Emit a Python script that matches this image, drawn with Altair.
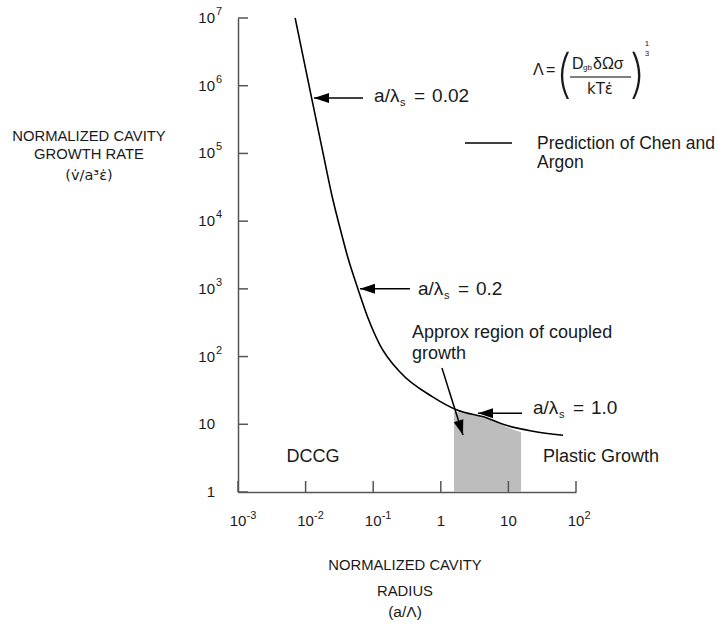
import altair as alt
import pandas as pd

FONT = "Liberation Sans"
INK = "#1a1a1a"
AXIS = "#555555"

# Prediction of Chen and Argon: normalized growth rate vs normalized radius
radius = [0.0070, 0.0122, 0.0178, 0.0254, 0.0323, 0.0424, 0.0596, 0.0838,
          0.126, 0.249, 0.767, 1.74, 4.82, 8.32, 23.1, 64.3]
rate = [1.0e7, 6.8e5, 1.1e5, 2.05e4, 7.9e3, 2.85e3, 990, 371,
        148, 59, 25.2, 16.2, 12.4, 10.0, 7.9, 6.9]

# approximate region of coupled growth (shaded under the curve)
band_radius = [1.57, 4.82, 8.32, 15.4]
band_rate = [15.5, 12.2, 9.6, 7.6]

# decade tick marks and their labels
x_ticks = [0.001, 0.01, 0.1, 1, 10, 100]
x_tick_base = ["10", "10", "10", "1", "10", "10"]
x_tick_exp = ["-3", "-2", "-1", "", "", "2"]
y_ticks = [1, 10, 1e2, 1e3, 1e4, 1e5, 1e6, 1e7]
y_tick_base = ["1", "10", "10", "10", "10", "10", "10", "10"]
y_tick_exp = ["", "", "2", "3", "4", "5", "6", "7"]

# a/lambda_s call-outs along the curve (arrow tip, arrow tail, label anchor)
ratio_value = ["0.02", "0.2", "1.0"]
ratio_tip_x = [0.0133, 0.0638, 3.55]
ratio_tip_y = [6.6e5, 1000, 14.6]
ratio_tail_x = [0.0706, 0.350, 15.9]
ratio_text_x = [0.103, 0.460, 23.1]
ratio_text_y = [7.05e5, 1000, 17.3]

# arrow into the coupled-growth band
coupled_from = (1.04, 67.6)
coupled_to = (2.13, 6.93)

W, H = 338, 474

xs = alt.Scale(type="log", domain=[0.001, 100], nice=False)
ys = alt.Scale(type="log", domain=[1, 1e7], nice=False)

curve_df = pd.DataFrame({"radius": radius, "rate": rate})
band_df = pd.DataFrame({"radius": band_radius, "rate": band_rate})
xt_df = pd.DataFrame({"v": x_ticks, "base": x_tick_base, "exp": x_tick_exp})
yt_df = pd.DataFrame({"v": y_ticks, "base": y_tick_base, "exp": y_tick_exp})
ratio_df = pd.DataFrame({
    "value": ratio_value, "tip_x": ratio_tip_x, "tip_y": ratio_tip_y,
    "tail_x": ratio_tail_x, "text_x": ratio_text_x, "text_y": ratio_text_y,
})
coupled_df = pd.DataFrame({
    "x": [coupled_from[0]], "y": [coupled_from[1]],
    "x2": [coupled_to[0]], "y2": [coupled_to[1]],
})
one_row = pd.DataFrame({"k": [0]})

X = lambda f: alt.X(f, type="quantitative", scale=xs, title=None)
Y = lambda f: alt.Y(f, type="quantitative", scale=ys, title=None)

ARROW_HEAD = "M0,0L1.5,-0.5L1.5,0.5Z"

layers = []

# shaded band and the prediction curve
layers.append(alt.Chart(band_df).mark_area(color="#bdbdbd", interpolate="monotone")
              .encode(x=X("radius"), y=Y("rate"), y2=alt.datum(1)))
layers.append(alt.Chart(curve_df).mark_line(color="black", strokeWidth=1.6,
                                            interpolate="monotone")
              .encode(x=X("radius"), y=Y("rate")))

# inward tick marks
layers.append(alt.Chart(yt_df).mark_rule(color=AXIS, strokeWidth=1.5)
              .encode(y=Y("v"), x=alt.value(0), x2=alt.value(10)))
layers.append(alt.Chart(xt_df).mark_rule(color=AXIS, strokeWidth=1.5)
              .encode(x=X("v"), y=alt.value(H), y2=alt.value(H - 11)))

# tick labels: base plus raised exponent
layers.append(alt.Chart(yt_df).mark_text(align="right", baseline="middle", dx=-23,
                                         fontSize=15, font=FONT, color=INK)
              .encode(y=Y("v"), x=alt.value(0), text="base:N"))
layers.append(alt.Chart(yt_df).mark_text(align="left", baseline="middle", dx=-22, dy=-6,
                                         fontSize=11, font=FONT, color=INK)
              .encode(y=Y("v"), x=alt.value(0), text="exp:N"))
layers.append(alt.Chart(xt_df).mark_text(align="center", baseline="middle",
                                         fontSize=15, font=FONT, color=INK)
              .encode(x=X("v"), y=alt.value(H + 29), text="base:N"))
layers.append(alt.Chart(xt_df).mark_text(align="left", baseline="middle", dx=8.5, dy=-5,
                                         fontSize=11, font=FONT, color=INK)
              .encode(x=X("v"), y=alt.value(H + 29), text="exp:N"))

# a/lambda_s arrows and labels
layers.append(alt.Chart(ratio_df).mark_rule(color="black", strokeWidth=1.5)
              .encode(x=X("tip_x"), x2="tail_x", y=Y("tip_y")))
layers.append(alt.Chart(ratio_df).mark_point(shape=ARROW_HEAD, filled=True, size=400,
                                             color="black", opacity=1, strokeWidth=0)
              .encode(x=X("tip_x"), y=Y("tip_y")))
for txt, dx, dy, fs in [("a/λ", 0, 0, 19), ("s", 26, 7, 11), ("=", 40, 0, 19)]:
    layers.append(alt.Chart(ratio_df).mark_text(align="left", baseline="middle", dx=dx, dy=dy,
                                                fontSize=fs, font=FONT, color=INK)
                  .encode(x=X("text_x"), y=Y("text_y"), text=alt.value(txt)))
layers.append(alt.Chart(ratio_df).mark_text(align="left", baseline="middle", dx=58,
                                            fontSize=19, font=FONT, color=INK)
              .encode(x=X("text_x"), y=Y("text_y"), text="value:N"))

# arrow into the coupled-growth band
layers.append(alt.Chart(coupled_df).mark_rule(color="black", strokeWidth=1.5)
              .encode(x=X("x"), y=Y("y"), x2="x2", y2="y2"))
layers.append(alt.Chart(coupled_df).mark_point(shape=ARROW_HEAD, filled=True, size=400,
                                               angle=252.6, color="black", opacity=1,
                                               strokeWidth=0)
              .encode(x=X("x2"), y=Y("y2")))

# region annotations placed in data coordinates
def data_text(text, x, y, align="left", size=18, line_height=21):
    return (alt.Chart(one_row)
            .mark_text(align=align, baseline="alphabetic", fontSize=size, font=FONT,
                       color=INK, lineHeight=line_height, text=text)
            .encode(x=alt.X("xv:Q", scale=xs, title=None),
                    y=alt.Y("yv:Q", scale=ys, title=None))
            .transform_calculate(xv=str(x), yv=str(y)))

layers.append(data_text(["Approx region of coupled", "growth"], 0.375, 187.6))
layers.append(data_text("DCCG", 0.01285, 2.77, align="center"))
layers.append(data_text("Plastic Growth", 32.5, 2.77))

# text and strokes placed in pixels around the plot area
def px_text(text, x, y, size=15, align="left", baseline="middle", font=FONT,
            weight="normal", color=INK):
    return (alt.Chart(one_row)
            .mark_text(align=align, baseline=baseline, fontSize=size, font=font,
                       fontWeight=weight, color=color)
            .encode(x=alt.value(x), y=alt.value(y), text=alt.value(text)))

def px_rule(x, x2, y, width=1.5, color="black"):
    return (alt.Chart(one_row).mark_rule(color=color, strokeWidth=width)
            .encode(x=alt.value(x), x2=alt.value(x2), y=alt.value(y)))

# axis titles
layers.append(px_text("NORMALIZED CAVITY", -149, 119, size=14.8, align="center"))
layers.append(px_text("GROWTH  RATE", -149, 137, size=14.8, align="center"))
layers.append(px_text("(v̇/a³ε̇)", -149, 158, size=14.5, align="center", font="DejaVu Sans"))
layers.append(px_text("NORMALIZED CAVITY", 167, 548, size=14.8, align="center"))
layers.append(px_text("RADIUS", 167, 574, size=14.8, align="center"))
layers.append(px_text("(a/Λ)", 167, 594, size=15.5, align="center"))

# legend entry
layers.append(px_rule(227, 274, 125))
layers.append(px_text("Prediction of Chen and", 299, 131, size=17.5, baseline="alphabetic"))
layers.append(px_text("Argon", 299, 150, size=17.5, baseline="alphabetic"))

# definition of the normalizing length
layers.append(px_text("Λ", 295, 52, size=16))
layers.append(px_text("=", 308, 52, size=16))
layers.append(px_text("(", 317, 58, size=52, font="Inter", weight=200))
layers.append(px_text("D", 334, 46, size=16))
layers.append(px_text("gb", 345, 50, size=8))
layers.append(px_text("δΩσ", 355, 46, size=16))
layers.append(px_rule(332, 393, 59, width=1.2))
layers.append(px_text("kTε̇", 362, 71, size=15, align="center", font="DejaVu Sans"))
layers.append(px_text(")", 391, 58, size=52, font="Inter", weight=200))
layers.append(px_text("1", 409, 26, size=8, align="center"))
layers.append(px_text("3", 409, 36, size=8, align="center"))

chart = (alt.layer(*layers)
         .properties(width=W, height=H, background="white",
                     padding={"left": 238, "top": 18, "right": 150, "bottom": 136},
                     autosize=alt.AutoSizeParams(type="none"))
         .configure_view(stroke=None)
         .configure_axis(domainColor=AXIS, domainWidth=1.5, labels=False, ticks=False,
                         grid=False, title=None))

chart.save("out.html", embed_options={"renderer": "svg", "actions": False})
